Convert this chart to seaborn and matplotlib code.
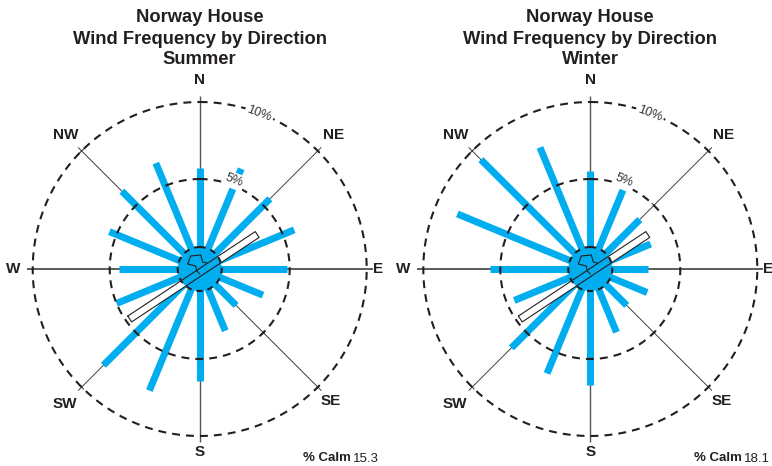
import numpy as np
import matplotlib
matplotlib.use("Agg")
import matplotlib.pyplot as plt
import seaborn as sns

# ---- data -------------------------------------------------------------
directions = ["N", "NNE", "NE", "ENE", "E", "ESE", "SE", "SSE",
              "S", "SSW", "SW", "WSW", "W", "WNW", "NW", "NNW"]
summer_pct = [5.7, 6.2, 5.6, 5.8, 4.8, 3.6, 2.5, 3.5,
              6.4, 7.7, 8.0, 5.0, 4.4, 5.5, 6.3, 6.6]
winter_pct = [5.5, 4.7, 3.7, 3.4, 2.9, 3.15, 2.5, 3.6,
              6.7, 6.5, 6.4, 4.5, 5.7, 8.5, 9.2, 7.7]
seasons = ["Summer", "Winter"]
calm_pct = [15.3, 18.1]
ring_levels = [5, 10]
ring_labels = ["5%", "10%"]
compass_labels = ["N", "NE", "E", "SE", "S", "SW", "W", "NW"]
station = "Norway House"
subtitle = "Wind Frequency by Direction"

# ---- style ------------------------------------------------------------
sns.set_theme(style="white")
plt.rcParams["font.family"] = ["Liberation Sans", "DejaVu Sans"]

BLUE = "#00AEEF"
INK = "#231f20"
W, H = 772, 466
PX = 15.4            # pixels per percent
R0 = -13.0 / PX      # radial origin, so the scale starts a little off-centre
HALF = 195           # half-size of each polar panel in pixels


def pt(px):
    return px * 0.72


def to_polar(x, y):
    """Pixel offsets from the rose centre (x east, y north) -> (theta, r)."""
    x = np.asarray(x, float)
    y = np.asarray(y, float)
    return np.arctan2(x, y), np.hypot(x, y) / PX + R0


def rval(rho_px):
    return rho_px / PX + R0


fig = plt.figure(figsize=(W / 100, H / 100), dpi=100)

centres = [(199.7, 269.0), (590.3, 269.0)]
values = [summer_pct, winter_pct]
theta = np.deg2rad(np.arange(len(directions)) * 22.5)
circle = np.linspace(0, 2 * np.pi, 721)

# compass label placement (pixel radius from centre)
label_rho = {"N": 189, "NE": 189, "E": 178, "SE": 186,
             "S": 183, "SW": 191, "W": 187, "NW": 190}

# runway ends and width, pixels from the rose centre
rw_a = np.array([-70.0, -50.0])
rw_b = np.array([57.5, 34.5])
rw_w = 7.0

for season, vals, calm, (cx, cy) in zip(seasons, values, calm_pct, centres):
    cy_b = H - cy
    ax = fig.add_axes([(cx - HALF) / W, (cy_b - HALF) / H, 2 * HALF / W, 2 * HALF / H],
                      projection="polar")
    ax.set_theta_zero_location("N")
    ax.set_theta_direction(-1)
    ax.set_ylim(R0, R0 + HALF / PX)
    ax.set_axis_off()

    # compass lines
    for k, lab in enumerate(compass_labels):
        b = np.deg2rad(k * 45)
        if k % 2 == 0:
            lw = 1.0 if k in (0, 4) else 1.35
            ax.plot([b, b], [R0, rval(173)], color="#555555", lw=lw, zorder=1,
                    solid_capstyle="butt")
        else:
            ax.plot([b, b], [R0, rval(172)], color=INK, lw=0.6, zorder=1,
                    solid_capstyle="butt")
            for lvl in ring_levels:
                rho = (lvl - R0) * PX
                c = rho * np.array([np.sin(b), np.cos(b)])
                n = np.array([np.cos(b), -np.sin(b)])
                p = np.array([c - 2.8 * n, c + 2.8 * n])
                t, r = to_polar(p[:, 0], p[:, 1])
                ax.plot(t, r, color=INK, lw=0.7, zorder=1)
        ax.text(b, rval(label_rho[lab]), lab, ha="center", va="center",
                fontsize=11, fontweight="bold", color=INK)

    # frequency bars
    ax.vlines(theta, R0, vals, colors=BLUE, lw=pt(7), capstyle="butt", zorder=2)

    # reference rings
    for lvl, txt in zip(ring_levels, ring_labels):
        ax.plot(circle, np.full_like(circle, lvl), color=INK, lw=1.5,
                ls=(0, (3.8, 2.9)), zorder=3)
        rho_lab = 94.7 if lvl == 5 else 166
        ax.text(np.deg2rad(21), rval(rho_lab), txt, rotation=-21, ha="center",
                va="center", fontsize=9, color="#333333", zorder=7,
                bbox=dict(fc="white", ec="none", pad=1.5))

    # runway
    u = (rw_b - rw_a) / np.linalg.norm(rw_b - rw_a)
    nrm = np.array([-u[1], u[0]])
    corners = np.array([rw_a + nrm * rw_w / 2, rw_b + nrm * rw_w / 2,
                        rw_b - nrm * rw_w / 2, rw_a - nrm * rw_w / 2,
                        rw_a + nrm * rw_w / 2])
    t, r = to_polar(corners[:, 0], corners[:, 1])
    ax.fill(t, r, facecolor="white", edgecolor="none", zorder=3)

    # calm disc
    calm_r = rval(22)
    ax.fill(circle, np.full_like(circle, calm_r), color=BLUE, zorder=4, lw=0)
    ax.plot(t, r, color=INK, lw=0.8, zorder=6)
    ax.plot(circle, np.full_like(circle, calm_r), color=INK, lw=1.5,
            ls=(0, (2.9, 2.4)), zorder=6)

    # terminal outline near the runway
    shp = np.array([(0, -5), (-3, -2), (-4, 3), (-12, 5), (-9, 13),
                    (1, 14), (3, 7), (7, 6)], float)
    t, r = to_polar(shp[:, 0], shp[:, 1])
    ax.plot(t, r, color=INK, lw=0.8, zorder=6)

    # titles
    for line, y in zip([station, subtitle, season], [18, 39, 60]):
        fig.text(cx / W, 1 - y / H, line, ha="center", va="center",
                 fontsize=13.2, fontweight="bold", color=INK)

    # calm percentage
    x0 = cx + 103.5
    fig.text(x0 / W, 1 - 458 / H, "% Calm", ha="left", va="center", fontsize=9.5,
             fontweight="bold", color=INK)
    fig.text((x0 + 50) / W, 1 - 458.5 / H, f"{calm:.1f}", ha="left", va="center",
             fontsize=9.5, color=INK)

fig.savefig("out.png", dpi=100)
